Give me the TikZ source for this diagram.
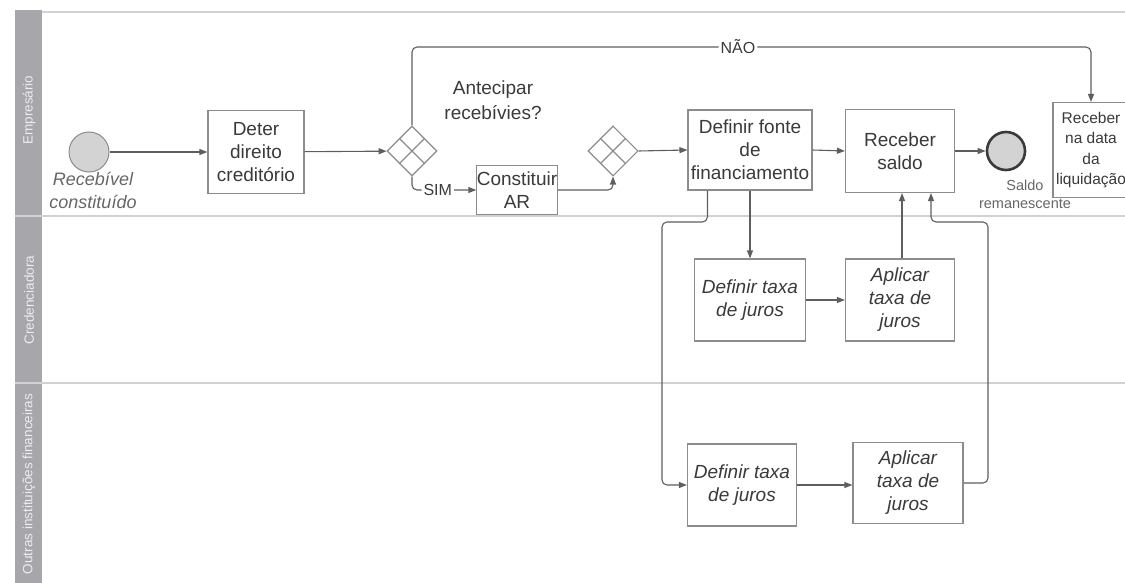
\documentclass[tikz,border=0pt]{standalone}
\usepackage{fontspec}
\setmainfont{Liberation Sans}
\usetikzlibrary{shapes.geometric,arrows.meta}
\definecolor{stripgray}{HTML}{A7A7AB}
\definecolor{laneline}{HTML}{D2D2D2}
\definecolor{boxline}{HTML}{8C8C8C}
\definecolor{flowline}{HTML}{5E5E5E}
\definecolor{txt}{HTML}{3A3A3A}
\definecolor{lbltxt}{HTML}{666666}
\definecolor{evtfill}{HTML}{D3D3D3}
\tikzset{
  task/.style={draw=boxline, line width=1.1pt, fill=white, align=center, text=txt,
    inner sep=2pt, font=\fontsize{19}{23}\selectfont},
  itask/.style={task, font=\fontsize{19}{23}\selectfont\itshape},
  gate/.style={diamond, aspect=1, draw=boxline, line width=1.1pt, fill=white,
    minimum width=50pt, minimum height=50pt, inner sep=0pt},
  evt/.style={circle, draw=boxline, line width=1pt, fill=evtfill, minimum size=40pt, inner sep=0pt},
  flow/.style={draw=flowline, line width=1.1pt, rounded corners=5pt, -{Triangle[length=8pt,width=6pt]}},
  lane/.style={draw=laneline, line width=1.6pt},
  lanetxt/.style={rotate=90, text=white!80!stripgray, font=\fontsize{13.5}{14}\selectfont},
  flowlbl/.style={fill=white, text=txt, inner sep=2pt, font=\fontsize{16}{16}\selectfont},
}
\begin{document}
\begin{tikzpicture}[x=1pt,y=-1pt]
\useasboundingbox (0,0) rectangle (1125,583);
% lanes
\fill[stripgray] (15,10) rectangle (42,583);
\draw[lane] (42,12) -- (1125,12);
\draw[lane] (15,216) -- (1125,216);
\draw[lane] (15,383) -- (1125,383);
\node[lanetxt] (l1) at (29,110) {Empresário};
\node[lanetxt] (l2) at (29,300) {Credenciadora};
\node[lanetxt] (l3) at (29,484) {Outras instituições financeiras};
% Empresario
\node[evt, label={[text=lbltxt, font=\fontsize{18}{23}\selectfont\itshape, align=center, inner sep=0pt, xshift=4pt]below:Recebível\\constituído}] (inicio) at (89,152) {};
\node[task, minimum width=96pt, minimum height=83pt] (deter) at (256,152) {Deter\\direito\\creditório};
\node[gate] (g1) at (412,151) {};
\draw[boxline, line width=1.1pt] (g1.north west) -- (g1.south east) (g1.north east) -- (g1.south west);
\node[text=txt, align=center, font=\fontsize{19}{25}\selectfont] (pergunta) at (493,100) {Antecipar\\recebívies?};
\node[task, minimum width=71pt, minimum height=49pt, inner sep=0pt] (ar) at (517,190) {Constituir\\AR};
\node[gate] (g2) at (613,151) {};
\draw[boxline, line width=1.1pt] (g2.north west) -- (g2.south east) (g2.north east) -- (g2.south west);
\node[task, minimum width=124pt, minimum height=80pt] (fonte) at (750,150) {Definir fonte\\de\\financiamento};
\node[task, minimum width=109pt, minimum height=83pt] (saldo) at (900,151) {Receber\\saldo};
\node[evt, draw=txt, line width=2.6pt, minimum size=38pt,
  label={[text=lbltxt, font=\fontsize{14.5}{18}\selectfont, align=center, inner sep=0pt, xshift=19pt, yshift=-8pt]below:Saldo\\remanescente}] (fim) at (1006,151) {};
\node[task, minimum width=76pt, minimum height=95pt, inner sep=0pt, font=\fontsize{15.5}{20.5}\selectfont] (liq) at (1091,150) {Receber\\na data\\da\\liquidação};
% Credenciadora
\node[itask, minimum width=111pt, minimum height=82pt] (taxa1) at (750,300) {Definir taxa\\de juros};
\node[itask, minimum width=109pt, minimum height=82pt] (apl1) at (900,300) {Aplicar\\taxa de\\juros};
% Outras instituicoes
\node[itask, minimum width=109pt, minimum height=82pt] (taxa2) at (742,485) {Definir taxa\\de juros};
\node[itask, minimum width=110pt, minimum height=81pt] (apl2) at (908,483) {Aplicar\\taxa de\\juros};
% flows
\coordinate (topo) at (0,47);
\coordinate (esq) at (662,222);
\coordinate (dir) at (988,222);
\draw[flow] (inicio) -- (deter);
\draw[flow] (deter) -- (g1);
\draw[flow] (g1.north) -- (g1.north |- topo) -| node[flowlbl, pos=0.24] {NÃO} (liq.north);
\draw[flow] (g1.south) |- node[flowlbl, pos=0.7] {SIM} (ar.west);
\draw[flow] (ar.east) -| (g2.south);
\draw[flow] (g2.east) -- (fonte.west);
\draw[flow] (fonte.east) -- (saldo.west);
\draw[flow] (saldo.east) -- (fim.west);
\draw[flow] (fonte.south) -- (taxa1.north);
\draw[flow] (taxa1.east) -- (apl1.west);
\draw[flow] ([xshift=2pt]apl1.north) -- ([xshift=2pt]saldo.south);
\draw[flow] ([xshift=20pt]fonte.south west) |- (esq) |- (taxa2.west);
\draw[flow] (taxa2.east) -- (taxa2.east -| apl2.west);
\draw[flow] (apl2.east) -| (dir) -| ([xshift=31pt]saldo.south);
\end{tikzpicture}
\end{document}
